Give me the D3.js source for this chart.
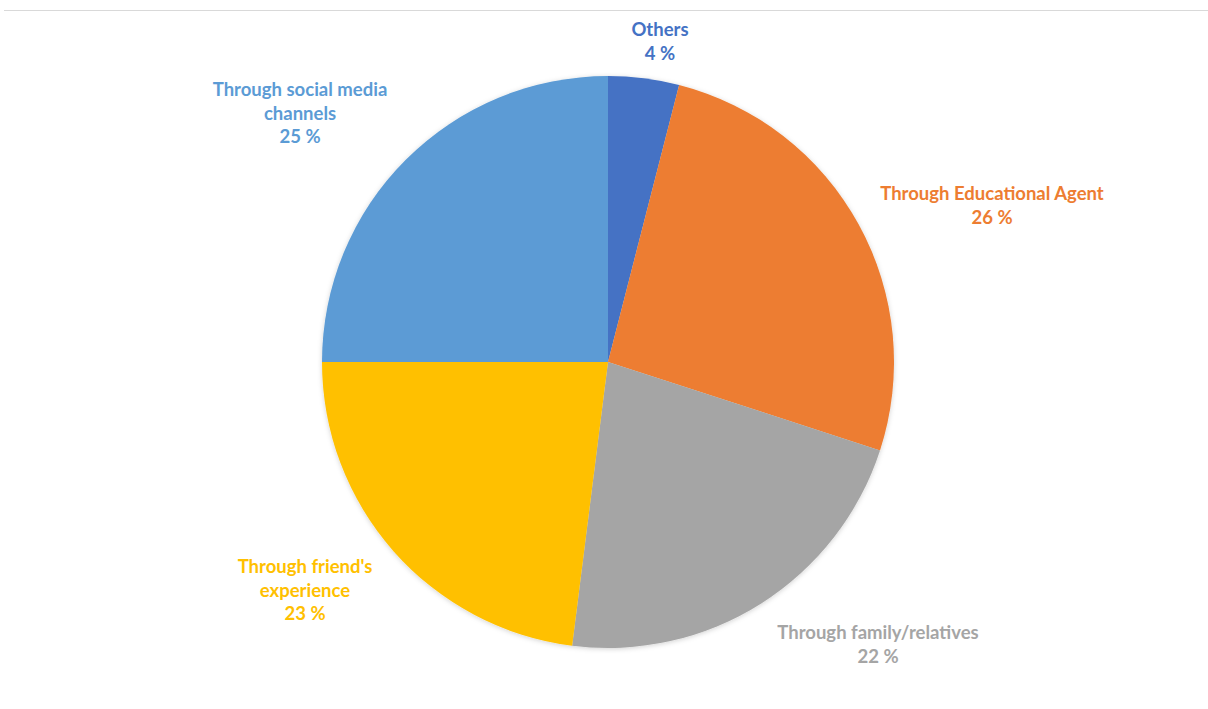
<!DOCTYPE html>
<html>
<head>
<meta charset="utf-8">
<script src="https://cdn.jsdelivr.net/npm/d3@7"></script>
<style>
  html, body { margin: 0; padding: 0; background: #fff; }
  svg { display: block; }
  .lbl { font-family: Lato, "Open Sans", sans-serif; font-weight: 700; font-size: 18.5px; }
</style>
</head>
<body>
<svg id="chart" width="1208" height="709"></svg>
<script>
// Channels through which students learned about the program (share, %)
const categories = [
  "Others",
  "Through Educational Agent",
  "Through family/relatives",
  "Through friend's experience",
  "Through social media channels"
];
const values = [4, 26, 22, 23, 25];
const colors = ["#4472C4", "#ED7D31", "#A5A5A5", "#FFC000", "#5B9BD5"];
// Label lines as printed beside each slice
const labelLines = [
  ["Others"],
  ["Through Educational Agent"],
  ["Through family/relatives"],
  ["Through friend's", "experience"],
  ["Through social media", "channels"]
];
// Label anchor points (centre x, first-line baseline y)
const labelPos = [
  [660, 36], [992, 200], [878, 639], [305, 573], [300, 96]
];

const svg = d3.select("#chart");
const W = 1208, H = 709;
const cx = 608, cy = 362, R = 286;

// thin frame rule at the top
svg.append("line")
  .attr("x1", 4).attr("x2", W).attr("y1", 10.5).attr("y2", 10.5)
  .attr("stroke", "#d9d9d9").attr("stroke-width", 1);

const defs = svg.append("defs");
const f = defs.append("filter").attr("id", "shadow")
  .attr("x", "-10%").attr("y", "-10%").attr("width", "120%").attr("height", "120%");
f.append("feDropShadow").attr("dx", 0).attr("dy", 1).attr("stdDeviation", 2.5)
  .attr("flood-color", "#000").attr("flood-opacity", 0.18);

const data = categories.map((c, i) => ({ name: c, value: values[i], i }));
const pie = d3.pie().value(d => d.value).sort(null);
const arc = d3.arc().innerRadius(0).outerRadius(R);

const g = svg.append("g").attr("transform", `translate(${cx},${cy})`);
const arcs = pie(data);
g.append("g").attr("filter", "url(#shadow)")
  .selectAll("path").data(arcs).join("path")
  .attr("d", arc)
  .attr("fill", d => colors[d.data.i]);

// labels
const lh = 23.5;
arcs.forEach(a => {
  const i = a.data.i;
  const [x, y] = labelPos[i];
  const lines = labelLines[i].concat([a.data.value + " %"]);
  const t = svg.append("text").attr("class", "lbl")
    .attr("text-anchor", "middle").attr("fill", colors[i]);
  lines.forEach((s, k) => {
    t.append("tspan").attr("x", x).attr("y", y + k * lh).text(s);
  });
});
</script>
</body>
</html>
